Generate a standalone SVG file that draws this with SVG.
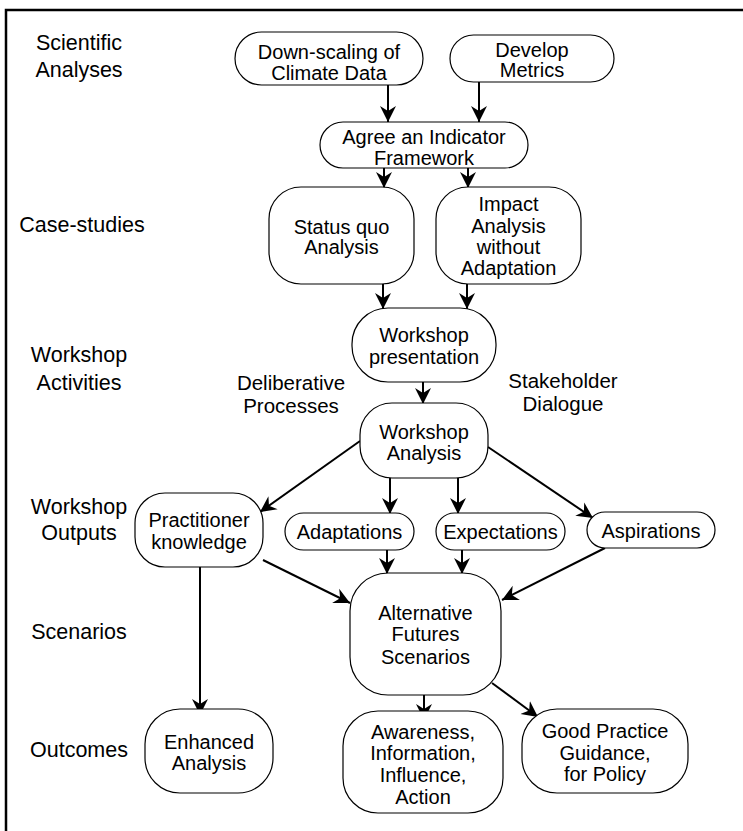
<svg xmlns="http://www.w3.org/2000/svg" width="743" height="831" viewBox="0 0 743 831">
<defs>
<style>
.n{fill:#fff;stroke:#000;stroke-width:1.2}
.t{font-family:"Liberation Sans",Arial,sans-serif;font-size:20px;text-anchor:middle;fill:#000}
.l{font-family:"Liberation Sans",Arial,sans-serif;font-size:21.5px;text-anchor:middle;fill:#000}
.m{font-family:"Liberation Sans",Arial,sans-serif;font-size:20.5px;text-anchor:middle;fill:#000}
.c{stroke:#000;stroke-width:2;fill:none;marker-end:url(#ah)}
.f{stroke:#000;stroke-width:2.5;fill:none}
</style>
<marker id="ah" markerUnits="userSpaceOnUse" viewBox="0 -9 17 18" markerWidth="17" markerHeight="18" refX="16" refY="0" orient="auto">
<path d="M0,-8 L16,0 L0,8 L5,0 z" fill="#000"/>
</marker>
</defs>
<rect width="743" height="831" fill="#fff"/>
<path class="f" d="M6,831 V10 H743"/>
<g id="labels">
<text class="l" x="79" y="50">Scientific</text>
<text class="l" x="79" y="77">Analyses</text>
<text class="l" x="82" y="232">Case-studies</text>
<text class="l" x="79" y="362">Workshop</text>
<text class="l" x="79" y="390">Activities</text>
<text class="m" x="291" y="390">Deliberative</text>
<text class="m" x="291" y="413">Processes</text>
<text class="m" x="563" y="388">Stakeholder</text>
<text class="m" x="563" y="411">Dialogue</text>
<text class="l" x="79" y="514">Workshop</text>
<text class="l" x="79" y="540">Outputs</text>
<text class="l" x="79" y="639">Scenarios</text>
<text class="l" x="79" y="757">Outcomes</text>
</g>
<g id="connectors">
<line class="c" x1="388" y1="85" x2="388" y2="122"/>
<line class="c" x1="479" y1="82" x2="479" y2="122"/>
<line class="c" x1="384" y1="168" x2="384" y2="188"/>
<line class="c" x1="468" y1="168" x2="468" y2="188"/>
<line class="c" x1="383" y1="284" x2="383" y2="309"/>
<line class="c" x1="467" y1="284" x2="467" y2="309"/>
<line class="c" x1="423" y1="382" x2="423" y2="404"/>
<line class="c" x1="360" y1="441" x2="260" y2="512"/>
<line class="c" x1="390" y1="478" x2="390" y2="514"/>
<line class="c" x1="458" y1="478" x2="458" y2="514"/>
<line class="c" x1="488" y1="447" x2="593" y2="518"/>
<line class="c" x1="263" y1="560" x2="350" y2="603"/>
<line class="c" x1="387" y1="550" x2="387" y2="574"/>
<line class="c" x1="462" y1="550" x2="462" y2="574"/>
<line class="c" x1="605" y1="548" x2="502" y2="600"/>
<line class="c" x1="200" y1="567" x2="200" y2="715"/>
<line class="c" x1="424" y1="695" x2="424" y2="720"/>
<line class="c" x1="492" y1="683" x2="538" y2="717"/>
</g>
<g id="n1"><rect class="n" x="235" y="32" width="188" height="53" rx="26.5"/><text class="t" x="329" y="59">Down-scaling of</text><text class="t" x="329" y="80">Climate Data</text></g>
<g id="n2"><rect class="n" x="450" y="35" width="164" height="47" rx="23.5"/><text class="t" x="532" y="57">Develop</text><text class="t" x="532" y="77">Metrics</text></g>
<g id="n3"><rect class="n" x="320" y="122" width="208" height="46" rx="23"/><text class="t" x="424" y="144">Agree an Indicator</text><text class="t" x="424" y="165">Framework</text></g>
<g id="n4"><rect class="n" x="269" y="187" width="145" height="97" rx="32"/><text class="t" x="341.5" y="234">Status quo</text><text class="t" x="341.5" y="254">Analysis</text></g>
<g id="n5"><rect class="n" x="436" y="187" width="145" height="97" rx="32"/><text class="t" x="508.5" y="211">Impact</text><text class="t" x="508.5" y="233">Analysis</text><text class="t" x="508.5" y="254">without</text><text class="t" x="508.5" y="275">Adaptation</text></g>
<g id="n6"><rect class="n" x="352" y="308" width="144" height="74" rx="36"/><text class="t" x="424" y="342">Workshop</text><text class="t" x="424" y="364">presentation</text></g>
<g id="n7"><rect class="n" x="360" y="403" width="128" height="75" rx="32"/><text class="t" x="424" y="439">Workshop</text><text class="t" x="424" y="460">Analysis</text></g>
<g id="n8"><rect class="n" x="135" y="493" width="128" height="74" rx="30"/><text class="t" x="199" y="527">Practitioner</text><text class="t" x="199" y="549">knowledge</text></g>
<g id="n9"><rect class="n" x="285" y="513" width="129" height="37" rx="18.5"/><text class="t" x="349.5" y="539">Adaptations</text></g>
<g id="n10"><rect class="n" x="436" y="513" width="129" height="37" rx="18.5"/><text class="t" x="500.5" y="539">Expectations</text></g>
<g id="n11"><rect class="n" x="587" y="512" width="128" height="36" rx="18"/><text class="t" x="651" y="538">Aspirations</text></g>
<g id="n12"><rect class="n" x="350" y="573" width="151" height="122" rx="38"/><text class="t" x="425.5" y="620">Alternative</text><text class="t" x="425.5" y="641">Futures</text><text class="t" x="425.5" y="664">Scenarios</text></g>
<g id="n13"><rect class="n" x="145" y="709" width="128" height="84" rx="35"/><text class="t" x="209" y="749">Enhanced</text><text class="t" x="209" y="770">Analysis</text></g>
<g id="n14"><rect class="n" x="343" y="711" width="160" height="102" rx="35"/><text class="t" x="423" y="739">Awareness,</text><text class="t" x="423" y="760">Information,</text><text class="t" x="423" y="782">Influence,</text><text class="t" x="423" y="804">Action</text></g>
<g id="n15"><rect class="n" x="522" y="709" width="166" height="84" rx="35"/><text class="t" x="605" y="738">Good Practice</text><text class="t" x="605" y="760">Guidance,</text><text class="t" x="605" y="781">for Policy</text></g>
</svg>
